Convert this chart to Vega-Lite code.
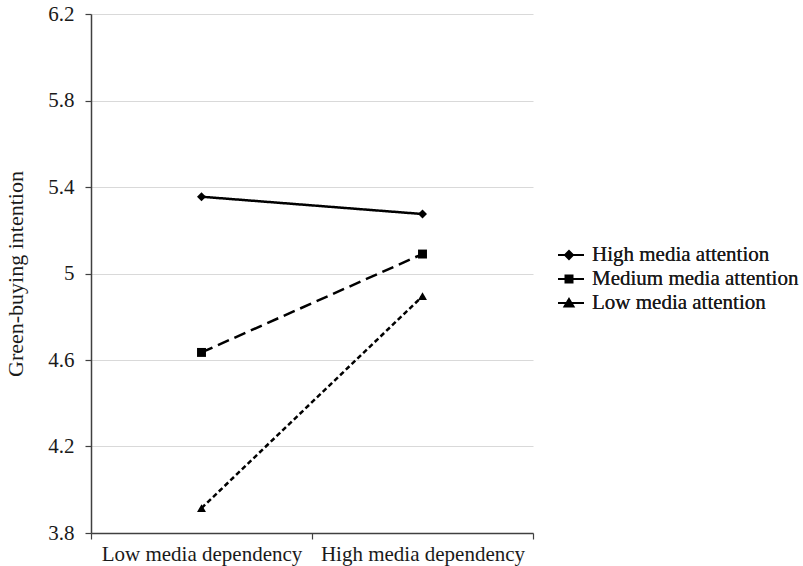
{
  "$schema": "https://vega.github.io/schema/vega-lite/v6.json",
  "width": 442,
  "height": 519,
  "autosize": {"type": "none"},
  "padding": {"left": 91, "top": 14, "right": 270, "bottom": 33},
  "background": "white",
  "config": {
    "font": "Liberation Serif",
    "view": {"stroke": null},
    "axis": {
      "labelFont": "Liberation Serif",
      "titleFont": "Liberation Serif",
      "labelColor": "#1a1a1a",
      "titleColor": "#1a1a1a",
      "domainColor": "#404040",
      "tickColor": "#404040",
      "gridColor": "#d9d9d9",
      "gridWidth": 1.2,
      "domainWidth": 1.5,
      "tickWidth": 1.2
    },
    "legend": {
      "padding": 0,
      "labelFont": "Liberation Serif",
      "labelFontSize": 21,
      "labelColor": "#1a1a1a",
      "labelLimit": 0
    }
  },
  "data": {
    "values": [
      {"dependency": "Low media dependency", "attention": "High media attention", "level": "High", "value": 5.355},
      {"dependency": "High media dependency", "attention": "High media attention", "level": "High", "value": 5.275},
      {"dependency": "Low media dependency", "attention": "Medium media attention", "level": "Medium", "value": 4.635},
      {"dependency": "High media dependency", "attention": "Medium media attention", "level": "Medium", "value": 5.09},
      {"dependency": "Low media dependency", "attention": "Low media attention", "level": "Low", "value": 3.915},
      {"dependency": "High media dependency", "attention": "Low media attention", "level": "Low", "value": 4.895}
    ]
  },
  "encoding": {
    "x": {
      "field": "dependency",
      "type": "nominal",
      "sort": ["Low media dependency", "High media dependency"],
      "scale": {"paddingInner": 0, "paddingOuter": 0},
      "axis": {
        "title": null,
        "labelAngle": 0,
        "labelFontSize": 21,
        "labelPadding": 4,
        "tickBand": "extent",
        "tickSize": 6,
        "grid": false,
        "labelLimit": 0
      }
    },
    "y": {
      "field": "value",
      "type": "quantitative",
      "scale": {"domain": [3.8, 6.2], "nice": false, "zero": false},
      "axis": {
        "title": "Green-buying intention",
        "titleFontSize": 22,
        "titleFontWeight": "normal",
        "titlePadding": 20,
        "values": [3.8, 4.2, 4.6, 5, 5.4, 5.8, 6.2],
        "format": "~g",
        "labelFontSize": 21,
        "labelPadding": 11,
        "tickSize": 6,
        "grid": true
      }
    }
  },
  "resolve": {"scale": {"shape": "independent"}},
  "layer": [
    {
      "transform": [{"filter": "false"}],
      "mark": {"type": "point", "filled": true, "color": "black", "stroke": "black", "strokeWidth": 2, "opacity": 1},
      "encoding": {
        "shape": {
          "field": "attention",
          "type": "nominal",
          "scale": {
            "domain": ["High media attention", "Medium media attention", "Low media attention"],
            "range": [
              "M-1.5,0H1.5M0,-0.4L0.4,0L0,0.4L-0.4,0Z",
              "M-1.5,0H1.5M-0.35,-0.35H0.35V0.35H-0.35Z",
              "M-1.5,0H1.5M0,-0.4L0.45,0.35H-0.45Z"
            ]
          },
          "legend": {
            "title": null,
            "orient": "none",
            "legendX": 467,
            "legendY": 229,
            "symbolSize": 400,
            "symbolStrokeWidth": 2,
            "symbolOpacity": 1,
            "clipHeight": 24,
            "rowPadding": 0,
            "labelOffset": 12
          }
        }
      }
    },
    {
      "mark": {"type": "line", "color": "black", "strokeWidth": 2.5},
      "encoding": {
        "strokeDash": {
          "field": "attention",
          "type": "nominal",
          "scale": {
            "domain": ["High media attention", "Medium media attention", "Low media attention"],
            "range": [[1, 0], [12, 6], [5, 3]]
          },
          "legend": {
            "title": null,
            "orient": "none",
            "legendX": 467,
            "legendY": 229,
            "symbolSize": 400,
            "symbolStrokeWidth": 2,
            "symbolOpacity": 1,
            "clipHeight": 24,
            "rowPadding": 0,
            "labelOffset": 12
          }
        }
      }
    },
    {
      "mark": {"type": "point", "filled": true, "color": "black", "opacity": 1, "size": 80},
      "encoding": {
        "shape": {
          "field": "level",
          "type": "nominal",
          "scale": {
            "domain": ["High", "Medium", "Low"],
            "range": ["diamond", "square", "triangle-up"]
          },
          "legend": null
        }
      }
    }
  ]
}
